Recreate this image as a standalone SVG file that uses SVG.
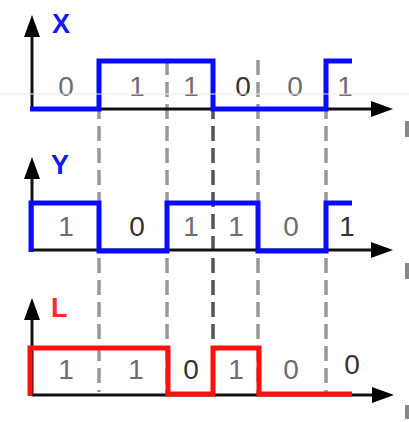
<svg xmlns="http://www.w3.org/2000/svg" width="409" height="422" viewBox="0 0 409 422">
  <style>
    .axis{stroke:#111;stroke-width:3;fill:none}
    .dash{stroke:#999;stroke-width:3.5;stroke-dasharray:15 7;fill:none}
    .dash.dk{stroke:#555}
    .sigb{stroke:#0a0aff;stroke-width:5;fill:none;stroke-linejoin:miter}
    .sigr{stroke:#ff1010;stroke-width:5;fill:none;stroke-linejoin:miter}
    .dig{font-family:"Liberation Sans",Arial,sans-serif;font-size:28px;fill:#6e6e6e;text-anchor:middle}
    .dig.dk{fill:#333}
    .lab{font-family:"Liberation Sans",Arial,sans-serif;font-size:27px;font-weight:bold}
  </style>
  <defs>
    <marker id="arr" markerUnits="userSpaceOnUse" markerWidth="22" markerHeight="16" refX="10" refY="8" orient="auto">
      <path d="M0,0 L22,8 L0,16 z" fill="#000"/>
    </marker>
  </defs>
  <rect width="409" height="422" fill="#fff"/>

  <g id="connectors">
    <line class="dash" x1="99" y1="60" x2="99" y2="392"/>
    <line class="dash" x1="167" y1="60" x2="167" y2="395"/>
    <line class="dash dk" x1="213" y1="60" x2="213" y2="395"/>
    <line class="dash" x1="258" y1="60" x2="258" y2="395"/>
    <line class="dash" x1="326" y1="60" x2="326" y2="395"/>
  </g>

  <g id="panel-x">
    <line class="axis" x1="32" y1="109" x2="32" y2="27" marker-end="url(#arr)"/>
    <line class="axis" x1="32" y1="109" x2="381" y2="109" marker-end="url(#arr)"/>
    <path class="sigb" d="M30,109 H99 V61 H213 V109 H326 V61 H352"/>
    <text class="lab" x="61" y="33" fill="#1515ff" text-anchor="middle">X</text>
    <text class="dig" x="66" y="96">0</text>
    <text class="dig" x="137" y="96">1</text>
    <text class="dig" x="191" y="96">1</text>
    <text class="dig dk" x="243" y="96">0</text>
    <text class="dig" x="295" y="96">0</text>
    <text class="dig" x="345" y="96">1</text>
  </g>

  <g id="panel-y">
    <line class="axis" x1="32" y1="250" x2="32" y2="169" marker-end="url(#arr)"/>
    <line class="axis" x1="32" y1="250" x2="381" y2="250" marker-end="url(#arr)"/>
    <path class="sigb" d="M31,252 V203 H99 V251 H167 V203 H258 V251 H326 V203 H352"/>
    <text class="lab" x="60" y="174" fill="#1515ff" text-anchor="middle">Y</text>
    <text class="dig" x="66" y="236">1</text>
    <text class="dig dk" x="137" y="236">0</text>
    <text class="dig" x="191" y="236">1</text>
    <text class="dig" x="236" y="236">1</text>
    <text class="dig" x="291" y="236">0</text>
    <text class="dig dk" x="347" y="236">1</text>
  </g>

  <g id="panel-l">
    <line class="axis" x1="32" y1="395" x2="32" y2="310" marker-end="url(#arr)"/>
    <line class="axis" x1="32" y1="395" x2="382" y2="395" marker-end="url(#arr)"/>
    <path class="sigr" d="M30,396 V348 H168 V394 H213 V348 H259 V394 H352"/>
    <text class="lab" x="51" y="317" fill="#ff2a2a">L</text>
    <text class="dig" x="66" y="379">1</text>
    <text class="dig" x="136" y="379">1</text>
    <text class="dig dk" x="191" y="379">0</text>
    <text class="dig" x="236" y="379">1</text>
    <text class="dig" x="291" y="379">0</text>
    <text class="dig dk" x="352" y="374">0</text>
  </g>

  <g id="edge-marks" fill="#888">
    <rect x="405" y="121" width="4" height="16"/>
    <rect x="405" y="263" width="4" height="16"/>
    <rect x="405" y="405" width="4" height="14"/>
  </g>
  <line x1="0" y1="94" x2="409" y2="94" stroke="#ececec" stroke-width="1"/>
</svg>
